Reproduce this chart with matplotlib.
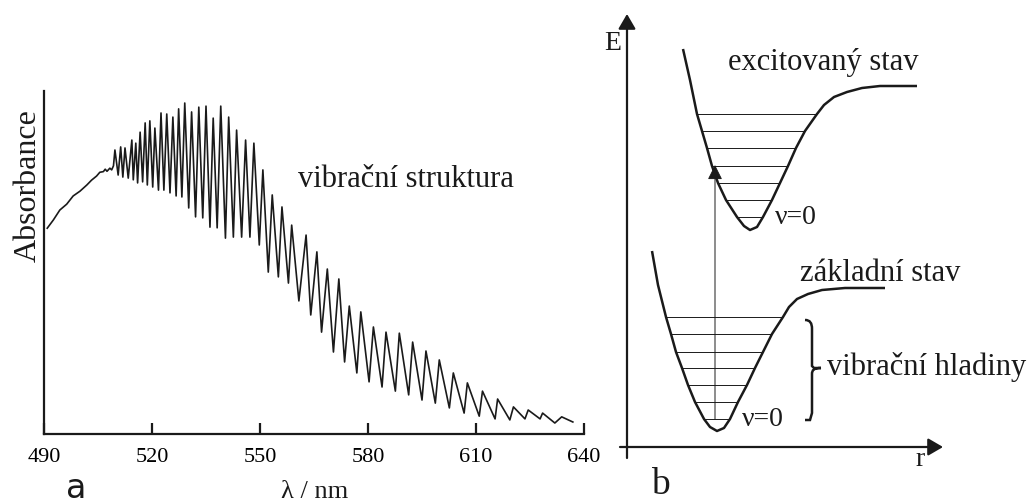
import matplotlib.pyplot as plt
from matplotlib.path import Path
from matplotlib.patches import PathPatch

# (a) absorption spectrum, vertices (peaks and troughs)
wavelength = [490.9, 492.6, 494.4, 496.3, 498.1, 500.0, 501.9, 503.2, 504.6, 505.5,
              506.5, 507.0, 507.5, 508.3, 508.8, 509.3,
              509.7, 510.6, 511.3, 511.9, 512.5, 513.4, 514.4, 514.8, 515.5, 516.0,
              516.7, 517.4, 518.1, 518.7, 519.4, 520.2, 520.8, 521.8, 522.5, 523.3,
              524.1, 525.0, 525.8, 526.7, 527.4, 528.3, 529.1, 530.2, 531.0, 532.1,
              533.0, 534.1, 535.0, 536.1, 537.0, 538.1, 539.1, 540.4, 541.3, 542.6,
              543.5, 544.9, 546.0, 547.2, 548.3, 549.8, 550.8, 552.3, 553.4, 555.1,
              556.1, 557.9, 558.8, 560.8, 562.8, 564.1, 565.8, 567.1, 568.7, 570.4,
              571.9, 573.5, 574.8, 576.9, 578.0, 580.3, 581.5, 583.9, 585.0, 587.6,
              588.7, 591.3, 592.4, 595.0, 596.1, 598.7, 599.8, 602.6, 603.7, 606.7,
              607.6, 610.9, 611.8, 615.3, 616.0, 619.4, 620.4, 623.6, 624.5, 627.8,
              628.5, 631.9, 633.8, 636.9]
absorbance = [0.600, 0.624, 0.653, 0.670, 0.694, 0.708, 0.726, 0.740, 0.752, 0.763,
              0.765, 0.772, 0.766, 0.775, 0.770, 0.782,
              0.828, 0.755, 0.837, 0.749, 0.834, 0.746, 0.857, 0.741, 0.848, 0.732,
              0.880, 0.735, 0.907, 0.726, 0.913, 0.720, 0.892, 0.711, 0.936, 0.711,
              0.933, 0.703, 0.924, 0.694, 0.948, 0.691, 0.965, 0.659, 0.939, 0.633,
              0.953, 0.630, 0.956, 0.603, 0.921, 0.601, 0.956, 0.571, 0.924, 0.574,
              0.886, 0.574, 0.857, 0.574, 0.848, 0.551, 0.770, 0.472, 0.697, 0.458,
              0.662, 0.440, 0.609, 0.388, 0.580, 0.347, 0.531, 0.297, 0.481, 0.239,
              0.452, 0.210, 0.373, 0.178, 0.356, 0.152, 0.312, 0.137, 0.297, 0.125,
              0.294, 0.114, 0.268, 0.099, 0.242, 0.090, 0.216, 0.076, 0.178, 0.061,
              0.149, 0.052, 0.125, 0.044, 0.102, 0.041, 0.079, 0.044, 0.070, 0.044,
              0.061, 0.032, 0.050, 0.035]
wl_ticks = [490, 520, 550, 580, 610, 640]

# (b) potential energy curves (r, E in arbitrary units)
exc_r = [56, 63, 70, 75, 80, 85, 91, 99, 110, 117, 123, 130, 136, 145, 153, 161,
         169, 178, 190, 197, 207, 220, 235, 253, 290]
exc_E = [398, 367, 333, 316, 299, 281, 264, 247, 230, 221, 217, 220, 230, 247, 264, 281,
         299, 316, 333, 342, 350, 355, 359, 361, 361]
exc_lev_E = [333, 316, 299, 281, 264, 247, 230]
exc_lev_left = [70, 75, 80, 85, 91, 99, 110]
exc_lev_right = [190, 178, 169, 161, 153, 145, 136]

gnd_r = [25, 31, 39, 44, 49, 55, 61, 68, 77, 83, 90, 97, 103, 111, 120, 128, 136,
         145, 156, 162, 170, 181, 195, 218, 258]
gnd_E = [196, 162, 130, 113, 95, 79, 62, 45, 28, 20, 16, 19, 28, 45, 62, 79, 95,
         113, 130, 140, 148, 153, 157, 159, 159]
gnd_lev_E = [130, 113, 95, 79, 62, 45, 28]
gnd_lev_left = [39, 44, 49, 55, 61, 68, 77]
gnd_lev_right = [156, 145, 136, 128, 120, 111, 103]

transition_r = 88
transition_E = (28, 282)

serif = 'Liberation Serif'
ink = '#1a1a1a'

fig = plt.figure(figsize=(10.3, 5.04), dpi=100)

# ---- panel a ----
ax = fig.add_axes([44 / 1030, 70 / 504, 540 / 1030, 343 / 504])
ax.plot(wavelength, absorbance, color=ink, lw=1.2)
ax.set_xlim(490, 640)
ax.set_ylim(0, 1)
for s in ['top', 'right']:
    ax.spines[s].set_visible(False)
for s in ['left', 'bottom']:
    ax.spines[s].set_linewidth(1.6)
    ax.spines[s].set_color(ink)
ax.set_yticks([])
ax.set_xticks(wl_ticks)
ax.set_xticklabels([str(t) for t in wl_ticks], fontfamily=serif, fontsize=16)
ax.tick_params(axis='x', direction='in', length=8, width=1.6, color=ink, pad=10)
ax.set_ylabel('Absorbance', fontfamily=serif, fontsize=23, color=ink)
ax.yaxis.set_label_coords(-0.03, 0.723)
ax.yaxis.label.set_va('center')
ax.set_xlabel('λ / nm', fontfamily=serif, fontsize=19, color=ink)
ax.xaxis.set_label_coords(0.502, -0.17)
ax.xaxis.label.set_va('center')
ax.text(560.6, 0.743, 'vibrační struktura', fontfamily=serif, fontsize=22,
        ha='left', va='center', color=ink)

# ---- panel b ----
bx = fig.add_axes([600 / 1030, 0, 430 / 1030, 1])
bx.set_xlim(-27, 403)
bx.set_ylim(-57, 447)
bx.axis('off')

axis_arrow = dict(arrowstyle='-|>,head_length=0.6,head_width=0.35', lw=1.6,
                  color=ink, mutation_scale=15, shrinkA=0, shrinkB=0)
bx.annotate('', xy=(0, 433), xytext=(0, -11), arrowprops=axis_arrow)
bx.annotate('', xy=(316, 0), xytext=(-7, 0), arrowprops=axis_arrow)

bx.plot(exc_r, exc_E, color=ink, lw=1.8, solid_capstyle='butt')
bx.plot(gnd_r, gnd_E, color=ink, lw=1.8, solid_capstyle='butt')
bx.hlines(exc_lev_E, exc_lev_left, exc_lev_right, color=ink, lw=0.7)
bx.hlines(gnd_lev_E, gnd_lev_left, gnd_lev_right, color=ink, lw=0.7)

bx.annotate('', xy=(transition_r, transition_E[1]), xytext=(transition_r, transition_E[0]),
            arrowprops=dict(arrowstyle='-|>,head_length=0.6,head_width=0.3', lw=0.7,
                            color=ink, mutation_scale=15, shrinkA=0, shrinkB=0))

# curly brace next to the ground-state levels
bv = [(178, 127), (183, 127), (185, 124), (185, 118),
      (185, 108), (185, 90), (185, 85), (185, 81), (187, 79), (194, 79),
      (187, 79), (185, 77), (185, 73), (185, 68), (185, 50), (185, 40),
      (185, 34), (183, 27), (178, 27)]
bc = [Path.MOVETO] + [Path.CURVE4] * 3 + [Path.LINETO] + [Path.CURVE4] * 3 + \
     [Path.LINETO] * 2 + [Path.CURVE4] * 3 + [Path.LINETO] + [Path.CURVE4] * 3 + \
     [Path.LINETO] * 2
bx.add_patch(PathPatch(Path(bv, bc), fill=False, lw=1.8, color=ink))

kw = dict(fontfamily=serif, color=ink)
bx.text(-14, 403, 'E', fontsize=20, ha='center', va='center', **kw)
bx.text(293, -13, 'r', fontsize=20, ha='center', va='center', **kw)
bx.text(196, 377, 'excitovaný stav', fontsize=22, ha='center', va='baseline', **kw)
bx.text(148, 230, 'ν=0', fontsize=20, ha='left', va='center', **kw)
bx.text(173, 166, 'základní stav', fontsize=22, ha='left', va='baseline', **kw)
bx.text(115, 27, 'ν=0', fontsize=20, ha='left', va='center', **kw)
bx.text(200, 72, 'vibrační hladiny', fontsize=22, ha='left', va='baseline', **kw)

fig.text(76 / 1030, 1 - 488 / 504, 'a', fontfamily='DejaVu Sans', fontsize=24,
         ha='center', va='center', color=ink)
fig.text(660 / 1030, 1 - 485 / 504, 'b', fontfamily=serif, fontsize=27,
         ha='center', va='center', color=ink)

fig.savefig('out.png', dpi=100)
